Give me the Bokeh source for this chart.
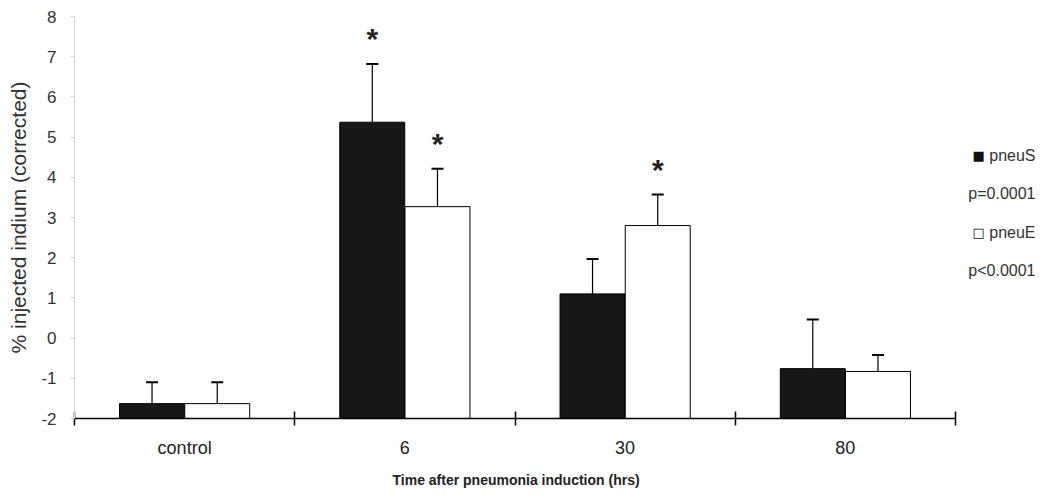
from bokeh.plotting import figure
from bokeh.models import (ColumnDataSource, Whisker, TeeHead, FixedTicker, Range1d,
                          Label, SingleIntervalTicker, Title)
from bokeh.embed import file_html
from bokeh.resources import INLINE
from bokeh.core.properties import value

# ---- data ----
categories = ["control", "6", "30", "80"]
pneuS_mean = [-1.63, 5.37, 1.10, -0.76]
pneuS_err = [0.53, 1.45, 0.87, 1.22]
pneuE_mean = [-1.63, 3.27, 2.80, -0.83]
pneuE_err = [0.53, 0.94, 0.77, 0.41]
pneuS_sig = [False, True, False, False]
pneuE_sig = [False, True, True, False]
baseline = -2
y_min, y_max = -2, 8
y_tick_labels = {v: str(v) for v in range(y_min, y_max + 1)}
legend_labels = ["pneuS", "pneuE"]
p_values = ["p=0.0001", "p<0.0001"]
x_title = "Time after pneumonia induction (hrs)"
y_title = "% injected indium (corrected)"

FONT = "Liberation Sans"
n = len(categories)
centers = [i + 0.5 for i in range(n)]
off = 0.148
bw = 0.295

xs_S = [c - off for c in centers]
xs_E = [c + off for c in centers]

srcS = ColumnDataSource(dict(x=xs_S, top=pneuS_mean,
                             upper=[m + e for m, e in zip(pneuS_mean, pneuS_err)]))
srcE = ColumnDataSource(dict(x=xs_E, top=pneuE_mean,
                             upper=[m + e for m, e in zip(pneuE_mean, pneuE_err)]))

# the frame runs to the right edge of the canvas so that the legend notes
# at the right can be drawn inside it; the x axis itself is bounded to [0, n]
W, H = 1051, 497
left_px, cat_px = 74, 220.25
x_end = n + (W - left_px - n * cat_px) / cat_px

p = figure(width=W, height=H, output_backend="svg", toolbar_location=None,
           x_range=Range1d(0, x_end), y_range=Range1d(y_min, y_max),
           min_border_left=left_px, min_border_right=0, min_border_top=16,
           min_border_bottom=79, background_fill_color="white",
           border_fill_color="white")
p.outline_line_color = None
p.grid.visible = False

rS = p.vbar(x="x", top="top", bottom=baseline, width=bw, source=srcS,
            fill_color="#171717", line_color="black", line_width=1)
rE = p.vbar(x="x", top="top", bottom=baseline, width=bw, source=srcE,
            fill_color="white", line_color="black", line_width=1)

for src in (srcS, srcE):
    w = Whisker(base="x", lower="top", upper="upper", source=src, dimension="height",
                line_color="black", line_width=1.2,
                upper_head=TeeHead(size=12, line_color="black", line_width=2),
                lower_head=None)
    p.add_layout(w)

# significance stars
star_x = [x for x, s in zip(xs_S, pneuS_sig) if s] + [x for x, s in zip(xs_E, pneuE_sig) if s]
star_y = ([m + e for m, e, s in zip(pneuS_mean, pneuS_err, pneuS_sig) if s] +
          [m + e for m, e, s in zip(pneuE_mean, pneuE_err, pneuE_sig) if s])
p.text(x=star_x, y=star_y, text=["*"] * len(star_x), text_align="center",
       text_baseline="middle", y_offset=-25, text_font=value(FONT),
       text_font_size="30px", text_font_style="bold", text_color="#222222")

# x axis: labels at category centers, boundary ticks as minor ticks
xa = p.xaxis[0]
xa.bounds = (0, n)
xa.ticker = FixedTicker(ticks=centers, minor_ticks=list(range(n + 1)))
xa.major_label_overrides = {c: lab for c, lab in zip(centers, categories)}
xa.major_tick_line_color = None
xa.minor_tick_line_color = "black"
xa.minor_tick_line_width = 1.5
xa.minor_tick_in = 7
xa.minor_tick_out = 7
xa.axis_line_color = "black"
xa.axis_line_width = 1.5
xa.major_label_standoff = 12
xa.major_label_text_font = FONT
xa.major_label_text_font_size = "18px"
xa.major_label_text_color = "#222222"

# x-axis title, centred under the bounded axis (not under the wider frame)
xt = Title(text=x_title, align="left", offset=318, text_font=FONT,
           text_font_size="14px", text_font_style="bold", text_color="#222222",
           standoff=18)
p.add_layout(xt, "below")

ya = p.yaxis[0]
ya.ticker = SingleIntervalTicker(interval=1)
ya.major_label_overrides = y_tick_labels
ya.axis_line_color = "#d8d8d8"
ya.major_tick_line_color = "#d8d8d8"
ya.major_tick_in = 0
ya.major_tick_out = 4
ya.minor_tick_line_color = None
ya.major_label_standoff = 14
ya.major_label_text_font = FONT
ya.major_label_text_font_size = "17px"
ya.major_label_text_color = "#333333"
ya.axis_label = y_title
ya.axis_label_text_font = FONT
ya.axis_label_text_font_size = "21px"
ya.axis_label_text_font_style = "normal"
ya.axis_label_text_color = "#333333"
ya.axis_label_standoff = 8

# legend-like notes at the right of the bars (canvas pixel units)
right_x = 1035
sq_x = 972
rows_y = [155, 193, 232, 270]
texts = [legend_labels[0], p_values[0], legend_labels[1], p_values[1]]
for t, yy in zip(texts, rows_y):
    p.add_layout(Label(x=right_x, y=yy, x_units="canvas", y_units="canvas", text=t,
                       text_align="right", text_baseline="middle", text_font=FONT,
                       text_font_size="16px", text_color="#333333"))
for sym, yy in zip(["■", "□"], [rows_y[0], rows_y[2]]):
    p.add_layout(Label(x=sq_x, y=yy, x_units="canvas", y_units="canvas", text=sym,
                       text_align="left", text_baseline="middle", text_font="DejaVu Sans",
                       text_font_size="13px", text_color="#111111"))

open("out.html", "w").write(file_html(p, INLINE))
